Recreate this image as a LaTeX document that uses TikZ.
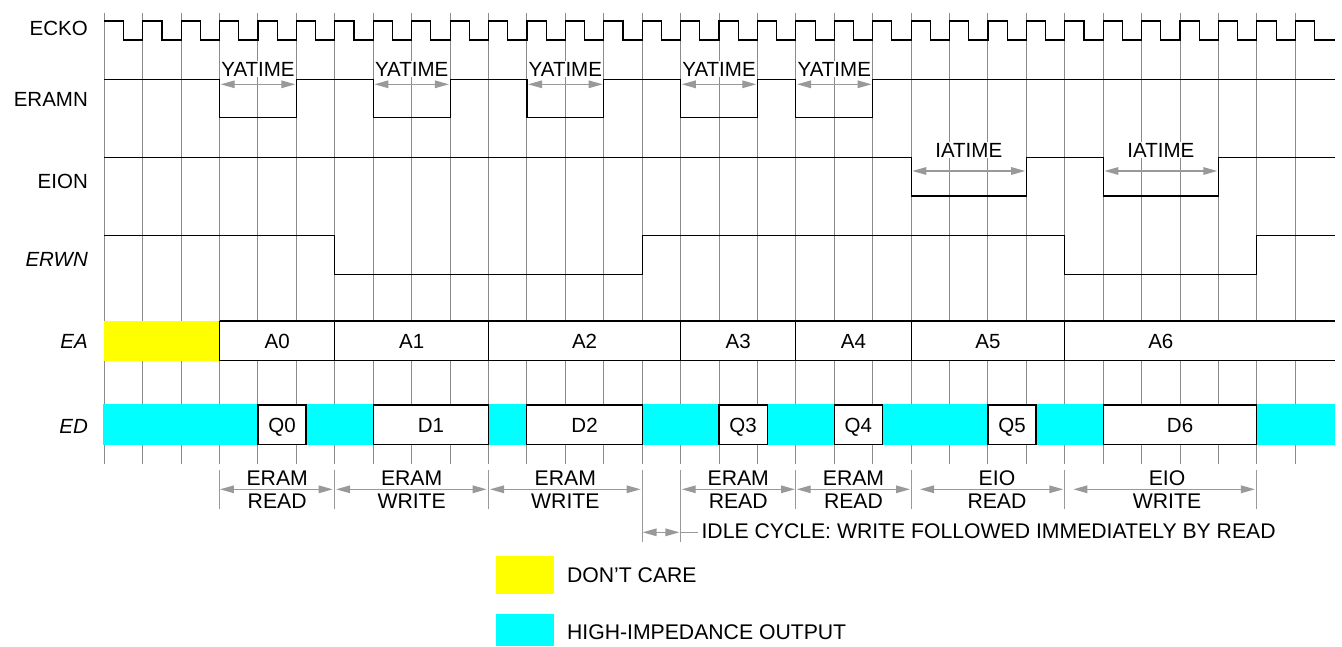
\documentclass[tikz,border=0pt]{standalone}
\usepackage{fontspec}
\setmainfont{Liberation Sans}
\usetikzlibrary{arrows.meta}
\definecolor{gridgray}{HTML}{8C8C8C}
\definecolor{arrgray}{HTML}{999999}
\definecolor{dcyellow}{HTML}{FFFF00}
\definecolor{hzcyan}{HTML}{00FFFF}
\begin{document}
\begin{tikzpicture}[x=38.42pt, y=-1pt,
  gridline/.style={gridgray, line width=1pt},
  sig/.style={black, line width=1.15pt},
  dimarrow/.style={arrgray, line width=1.4pt, {Triangle[length=14pt,width=7.5pt]}-{Triangle[length=14pt,width=7.5pt]}},
  sepline/.style={arrgray, line width=1pt},
  lbl/.style={font=\fontsize{20.5}{24}\selectfont, inner sep=0pt, anchor=base east},
  txt/.style={font=\fontsize{20.5}{24}\selectfont, inner sep=0pt, anchor=base},
  btxt/.style={font=\fontsize{21.2}{24}\selectfont, inner sep=0pt, anchor=base},
  tag/.style={font=\fontsize{20.5}{24}\selectfont, inner sep=1pt, fill=white, anchor=base},
  cell/.style={draw=black, line width=1.1pt, fill=white},
]
\useasboundingbox (-2.7148,0) rectangle (32.2150,646);
% grid
\foreach \i in {0,...,31} \draw[gridline] (\i,12.7) -- (\i,464.3);
% signal names
\node[lbl] (nECKO) at (-0.424,35) {ECKO};
\node[lbl] (nERAMN) at (-0.424,106.7) {ERAMN};
\node[lbl] (nEION) at (-0.424,188) {EION};
\node[lbl] (nERWN) at (-0.424,266.7) {\itshape ERWN};
\node[lbl] (nEA) at (-0.424,348) {\itshape EA};
\node[lbl] (nED) at (-0.424,433) {\itshape ED};
% clock
\draw[sig] (0,21) \foreach \i in {0,...,30}{ -- (\i+0.5,21) -- (\i+0.5,40) -- (\i+1,40) -- (\i+1,21)} -- (31.5,21) -- (31.5,40) -- (32.04,40);
% ERAMN
\draw[sig] (0,79.3) -- (3,79.3) -- (3,117.7) -- (5,117.7) -- (5,79.3) -- (7,79.3) -- (7,117.7) -- (9,117.7) -- (9,79.3) -- (11,79.3) -- (11,117.7) -- (13,117.7) -- (13,79.3) -- (15,79.3) -- (15,117.7) -- (17,117.7) -- (17,79.3) -- (18,79.3) -- (18,117.7) -- (20,117.7) -- (20,79.3) -- (32.04,79.3);
\foreach \a/\b [count=\k] in {3/5,7/9,11/13,15/17,18/20}{
  \node[tag] (ya\k) at ({(\a+\b)/2},76) {YATIME};
  \draw[dimarrow] (\a+0.03,84.3) -- (\b-0.03,84.3);
}
% EION
\draw[sig] (0,157.3) -- (21,157.3) -- (21,196) -- (24,196) -- (24,157.3) -- (26,157.3) -- (26,196) -- (29,196) -- (29,157.3) -- (32.04,157.3);
\foreach \a/\b [count=\k] in {21/24,26/29}{
  \node[tag] (ia\k) at ({(\a+\b)/2},157) {IATIME};
  \draw[dimarrow] (\a+0.03,171) -- (\b-0.03,171);
}
% ERWN
\draw[sig] (0,235.3) -- (6,235.3) -- (6,274.3) -- (14,274.3) -- (14,235.3) -- (25,235.3) -- (25,274.3) -- (30,274.3) -- (30,235.3) -- (32.04,235.3);
% EA
\fill[dcyellow] (0,321) rectangle (3,360.7);
\fill[white] (3,321) rectangle (32.04,360.7);
\draw[sig, line width=1.1pt] (3,321) -- (32.04,321) (3,360.7) -- (32.04,360.7);
\foreach \x in {3,6,10,15,18,21,25} \draw[sig, line width=1.1pt] (\x,321) -- (\x,360.7);
\foreach \x/\t in {4.5/A0,8/A1,12.5/A2,16.5/A3,19.5/A4,23/A5,27.5/A6}
  \node[txt] (ea\t) at (\x,348) {\t};
% ED
\fill[hzcyan] (-0.03,404) rectangle (32.04,444.7);
\foreach \a/\b/\t in {4/5.25/Q0,7/10/D1,11/14/D2,16/17.25/Q3,19/20.25/Q4,23/24.25/Q5,26/30/D6}{
  \draw[cell] (\a,405) rectangle (\b,444.2);
  \node[txt] (ed\t) at ({(\a+\b)/2},432.7) {\t};
}
% bottom dividers
\foreach \x in {3,6,10,18,21,25,30} \draw[sepline] (\x,470) -- (\x,509);
\foreach \x in {14,15} \draw[sepline] (\x,470) -- (\x,542.3);
% cycle arrows
\foreach \a/\b in {3.011/5.945,6.031/9.953,10.039/13.961,15.029/17.978,18.022/20.971,21.231/24.961,25.221/29.95}
  \draw[dimarrow] (\a,489.3) -- (\b,489.3);
\foreach \x/\u/\l [count=\k] in {4.5/ERAM/READ,8/ERAM/WRITE,12/ERAM/WRITE,16.5/ERAM/READ,19.5/ERAM/READ,23.235/EIO/READ,27.66/EIO/WRITE}{
  \node[btxt] (cu\k) at (\x,485) {\u};
  \node[btxt] (cl\k) at (\x,508.3) {\l};
}
% idle
\draw[dimarrow] (14.01,532.3) -- (14.97,532.3);
\coordinate (idleA) at (15,532.3);
\node[btxt, anchor=base west] (idle) at (15.54,538.3) {IDLE CYCLE: WRITE FOLLOWED IMMEDIATELY BY READ};
\draw[sepline, line width=1.4pt] (idleA) -- (15.461,532.3);
% legend
\fill[dcyellow] (10.195,556) rectangle (11.705,594);
\node[btxt, anchor=base west] (lgdc) at (12.04,582.5) {DON’T CARE};
\fill[hzcyan] (10.195,614) rectangle (11.705,646);
\node[btxt, anchor=base west] (lghz) at (12.04,639.5) {HIGH-IMPEDANCE OUTPUT};
\end{tikzpicture}
\end{document}
